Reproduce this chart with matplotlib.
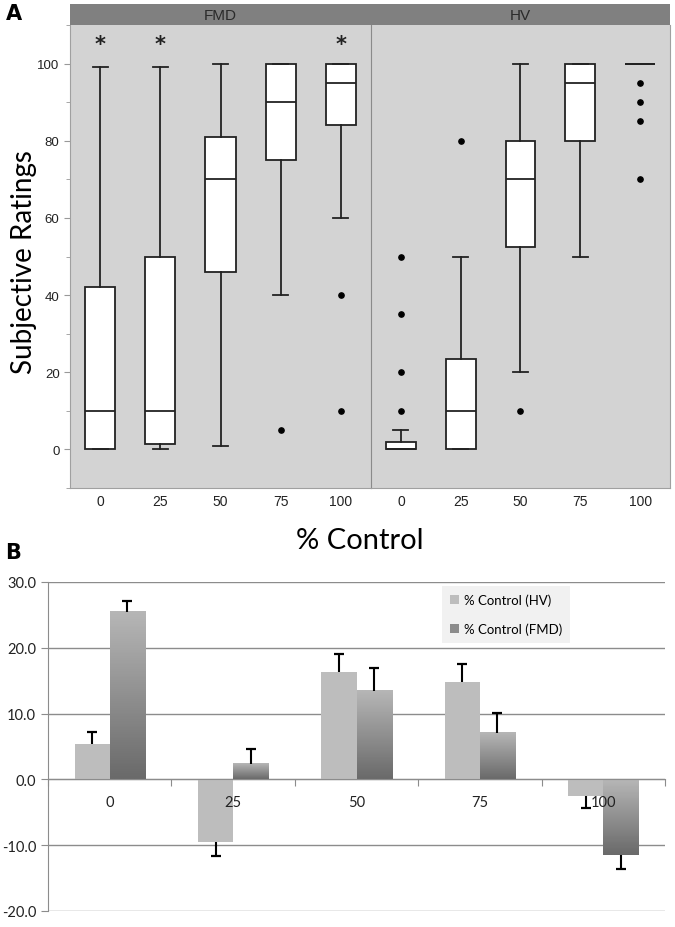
import numpy as np
import matplotlib.pyplot as plt
from matplotlib.colors import LinearSegmentedColormap
from matplotlib.patches import Rectangle

plt.rcParams['axes.unicode_minus'] = False

# ---- panel A: box summaries ----
levels = ['0', '25', '50', '75', '100']

fmd_whislo = [0, 0, 1, 40, 60]
fmd_q1 = [0, 1.5, 46, 75, 84]
fmd_med = [10, 10, 70, 90, 95]
fmd_q3 = [42, 50, 81, 100, 100]
fmd_whishi = [99, 99, 100, 100, 100]
fmd_fliers = [[], [], [], [5], [40, 10]]
fmd_star = [True, True, False, False, True]

hv_whislo = [0, 0, 20, 50, 100]
hv_q1 = [0, 0, 52.5, 80, 100]
hv_med = [0, 10, 70, 95, 100]
hv_q3 = [2, 23.5, 80, 100, 100]
hv_whishi = [5, 50, 100, 100, 100]
hv_fliers = [[50, 35, 20, 10], [80], [10], [], [95, 90, 85, 70]]

# ---- panel B: mean change with one-sided error ----
cats = ['0', '25', '50', '75', '100']
hv_mean = [5.4, -9.5, 16.3, 14.8, -2.5]
hv_err = [1.8, 2.1, 2.8, 2.7, 1.8]
fmd_mean = [25.4, 2.3, 13.4, 7.1, -11.5]
fmd_err = [1.7, 2.3, 3.6, 3.0, 2.1]

W, H = 675, 928
fig = plt.figure(figsize=(W / 100, H / 100), dpi=100)


def fx(px):
    return px / W


def fy(py):
    return 1 - py / H


def stats(lo, q1, med, q3, hi, fl):
    return [dict(whislo=a, q1=b, med=c, q3=d, whishi=e, fliers=f)
            for a, b, c, d, e, f in zip(lo, q1, med, q3, hi, fl)]


ink = '#222222'
line_kw = dict(color=ink, linewidth=1.3)
top, bot = 26, 489
axF = fig.add_axes([fx(70), fy(bot), fx(371 - 70), (bot - top) / H])
axH = fig.add_axes([fx(371), fy(bot), fx(670 - 371), (bot - top) / H], sharey=axF)

groups = [(axF, stats(fmd_whislo, fmd_q1, fmd_med, fmd_q3, fmd_whishi, fmd_fliers)),
          (axH, stats(hv_whislo, hv_q1, hv_med, hv_q3, hv_whishi, hv_fliers))]
for ax, st in groups:
    ax.set_facecolor('#d3d3d3')
    ax.bxp(st, positions=range(5), widths=0.5, patch_artist=True,
           boxprops=dict(facecolor='white', edgecolor=ink, linewidth=1.3),
           medianprops=line_kw, whiskerprops=line_kw, capprops=line_kw,
           flierprops=dict(marker='o', markerfacecolor='black',
                           markeredgecolor='black', markersize=3.8))
    ax.set_xlim(-0.5, 4.5)
    ax.set_xticks(range(5))
    ax.set_xticklabels(levels, family='Liberation Sans', fontsize=10, color=ink)
    ax.tick_params(axis='x', length=0, pad=4)
    for s in ax.spines.values():
        s.set_color('#a0a0a0')
    ax.spines['top'].set_visible(False)

for i, flag in enumerate(fmd_star):
    if flag:
        axF.text(i, 105, '*', ha='center', va='center', fontsize=15,
                 fontweight='bold', color=ink)

axF.set_ylim(-10, 110)
axF.set_yticks(range(0, 101, 20))
axF.set_yticks(range(-10, 111, 20), minor=True)
axF.set_yticklabels([str(v) for v in range(0, 101, 20)],
                    family='Liberation Sans', fontsize=9.5, color=ink)
axF.tick_params(axis='y', which='both', color='#999999', length=4)
axF.tick_params(axis='y', which='minor', length=3)
axH.tick_params(axis='y', which='both', left=False, labelleft=False)
axF.spines['right'].set_visible(False)
axH.spines['left'].set_color('#8a8a8a')

# facet header strip
fig.patches.append(Rectangle((fx(70), fy(26)), fx(600), 21 / H,
                             transform=fig.transFigure, facecolor='#808080',
                             edgecolor='none'))
fig.text(fx(220), fy(15.5), 'FMD', ha='center', va='center', fontsize=11,
         family='Liberation Sans', color='#2a2a2a')
fig.text(fx(520), fy(15.5), 'HV', ha='center', va='center', fontsize=11,
         family='Liberation Sans', color='#2a2a2a')

fig.text(fx(24), fy(262), 'Subjective Ratings', rotation=90, ha='center',
         va='center', fontsize=20, family='Lato', color='black')
fig.text(fx(360), fy(541), '% Control', ha='center', va='center',
         fontsize=21, family='Lato', color='black')
fig.text(fx(14), fy(14), 'A', ha='center', va='center', fontsize=15,
         fontweight='heavy', family='DejaVu Sans')
fig.text(fx(13), fy(553), 'B', ha='center', va='center', fontsize=15,
         fontweight='heavy', family='DejaVu Sans')

# ---- panel B ----
axB = fig.add_axes([fx(48), fy(912), fx(665 - 48), (912 - 583) / H])
x = np.arange(len(cats))
bw = 0.285

for v in range(-20, 31, 10):
    axB.axhline(v, color='#8c8c8c', linewidth=1, zorder=0.5)

axB.bar(x - bw / 2, hv_mean, bw, color='#bdbdbd', label='% Control (HV)', zorder=2)
fmd_bars = axB.bar(x + bw / 2, fmd_mean, bw, color='#8c8c8c',
                   label='% Control (FMD)', zorder=2)
grad = LinearSegmentedColormap.from_list('g', ['#6a6a6a', '#b6b6b6'])
for b in fmd_bars:
    x0, y0 = b.get_xy()
    y1 = y0 + b.get_height()
    axB.imshow(np.linspace(0, 1, 64).reshape(-1, 1), cmap=grad, origin='lower',
               extent=(x0, x0 + b.get_width(), min(y0, y1), max(y0, y1)),
               aspect='auto', zorder=2.1)

# one-sided error bars, pointing away from zero
for xs, means, errs in [(x - bw / 2, hv_mean, hv_err), (x + bw / 2, fmd_mean, fmd_err)]:
    tips = [m + np.sign(m) * e for m, e in zip(means, errs)]
    axB.vlines(xs, means, tips, color='black', linewidth=1.5, zorder=3)
    axB.plot(xs, tips, linestyle='none', marker='_', markersize=7.5,
             markeredgewidth=1.6, color='black', zorder=3)

axB.set_axisbelow(False)  # category labels sit on top of the bars
axB.set_xlim(-0.5, 4.5)
axB.set_ylim(-20, 30)
axB.set_yticks(range(-20, 31, 10))
axB.set_yticklabels(['%.1f' % v for v in range(-20, 31, 10)], family='Lato',
                    fontsize=10.5, color=ink)
axB.tick_params(axis='y', color='#8c8c8c', length=5)
for s in ['top', 'right']:
    axB.spines[s].set_visible(False)
axB.spines['left'].set_color('#8c8c8c')
axB.spines['bottom'].set_position(('data', 0))
axB.spines['bottom'].set_color('#8c8c8c')
axB.set_xticks(np.arange(-0.5, 5, 1))
axB.set_xticklabels([])
axB.tick_params(axis='x', which='major', color='#8c8c8c', length=5)
axB.set_xticks(x, minor=True)
axB.set_xticklabels(cats, minor=True, family='Lato', fontsize=10.5, color=ink)
axB.tick_params(axis='x', which='minor', length=0, pad=11)

leg = axB.legend(loc='upper left', bbox_to_anchor=(fx(442), fy(587)),
                 bbox_transform=fig.transFigure, frameon=True, fancybox=False,
                 prop=dict(family='Lato', size=9.5), labelspacing=1.2,
                 handlelength=0.7, handleheight=0.7, handletextpad=0.35,
                 borderpad=0.6, borderaxespad=0)
leg.get_frame().set_facecolor('#f1f1f1')
leg.get_frame().set_edgecolor('none')
leg.get_frame().set_alpha(1)
leg.set_zorder(5)

fig.savefig('out.png', dpi=100)
